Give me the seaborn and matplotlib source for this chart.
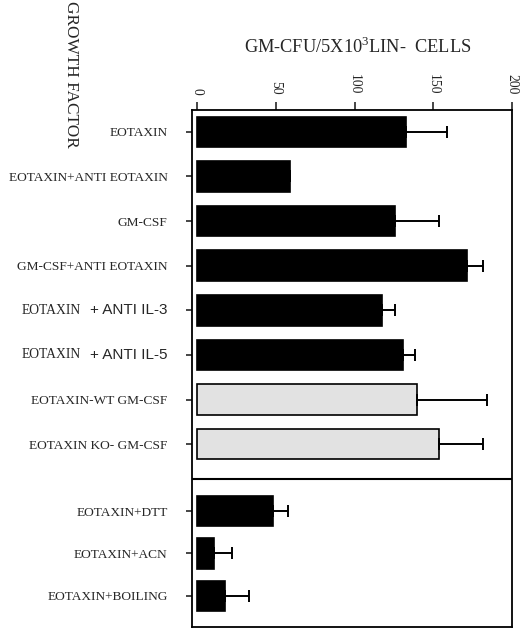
import numpy as np
import pandas as pd
import matplotlib
matplotlib.use("Agg")
import matplotlib.pyplot as plt
import seaborn as sns

categories = ["EOTAXIN", "EOTAXIN+ANTI EOTAXIN", "GM-CSF", "GM-CSF+ANTI EOTAXIN",
              "EOTAXIN + ANTI IL-3", "EOTAXIN + ANTI IL-5", "EOTAXIN-WT GM-CSF",
              "EOTAXIN KO- GM-CSF", "EOTAXIN+DTT", "EOTAXIN+ACN", "EOTAXIN+BOILING"]
values = [133, 59, 126, 171.5, 117.5, 130.5, 139.5, 153.5, 48.5, 10.5, 17.5]
errors = [25.5, 0, 27.5, 10, 8, 8, 44.5, 28, 9, 12, 15.5]
groups = ["black", "black", "black", "black", "black", "black", "gray", "gray",
          "black", "black", "black"]
section = [1, 1, 1, 1, 1, 1, 1, 1, 2, 2, 2]
x_ticks = [0, 50, 100, 150, 200]

# layout positions (section 2 offset by a gap)
pos = []
for i, s in enumerate(section):
    if s == 1:
        pos.append(float(i))
    else:
        j = i - section.index(2)
        pos.append(8.5 + 0.95 * j)

df = pd.DataFrame({"cat": categories, "val": values, "err": errors,
                   "grp": groups, "pos": pos})

sns.set_style("white")
plt.rcParams["font.family"] = ["Liberation Serif", "DejaVu Serif"]
plt.rcParams["mathtext.fontset"] = "custom"
plt.rcParams["mathtext.rm"] = "Liberation Serif"

fig = plt.figure(figsize=(5.2, 6.29), dpi=100)
ax = fig.add_axes([192/520, 1-627/629, (512-192)/520, (627-110)/629])

sns.barplot(data=df, x="val", y="pos", hue="grp", orient="h", native_scale=True,
            palette={"black": "#000000", "gray": "#e2e2e2"}, edgecolor="black",
            linewidth=1.2, width=0.72, legend=False, ax=ax, dodge=False)

ax.errorbar(df["val"], df["pos"], xerr=[np.zeros(len(df)), df["err"]],
            fmt="none", ecolor="black", elinewidth=1.4, capsize=4.5, capthick=1.4)

ax.set_xlim(-3.2, 200)
ax.set_ylim(11.1, -0.49)
ax.axhline(7.79, color="black", lw=1.5)

ax.xaxis.tick_top()
ax.set_xticks(x_ticks)
ax.set_xticklabels([str(t) for t in x_ticks], rotation=-90, fontsize=9.8)
ax.tick_params(axis="x", direction="out", length=6, width=1.2, pad=5, top=True, bottom=False)
ax.set_yticks(df["pos"])
labels = []
for c in categories:
    labels.append("" if "ANTI IL" in c else c)
ax.set_yticklabels(labels, fontsize=9.6)
ax.tick_params(axis="y", direction="out", length=4.5, width=1.2, pad=13, left=True)
ax.set_xlabel("")
ax.set_ylabel("")
for sp in ax.spines.values():
    sp.set_color("black")
    sp.set_linewidth(1.3)

# mixed-font labels
for c, p in zip(categories, pos):
    if "ANTI IL" in c:
        head, tail = c.split(" + ")
        t = ax.annotate("+ " + tail, xy=(0, p), xycoords=ax.get_yaxis_transform(),
                        xytext=(-18, 0), textcoords="offset points",
                        ha="right", va="center", fontsize=11,
                        family=["Liberation Sans", "DejaVu Sans"])
        ax.annotate(head, xy=(0, 0.5), xycoords=t, xytext=(-6, 0),
                    textcoords="offset points", ha="right", va="center",
                    fontsize=9.8)

fig.text(358/520, 1-47/629, "GM-CFU/5X10$^{3}$LIN-  CELLS", ha="center", va="center",
         fontsize=13.2)
fig.text(71/520, 1-1/629, "GROWTH FACTOR", rotation=-90, ha="center", va="top",
         fontsize=12.4)

fig.savefig("out.png", dpi=100)
